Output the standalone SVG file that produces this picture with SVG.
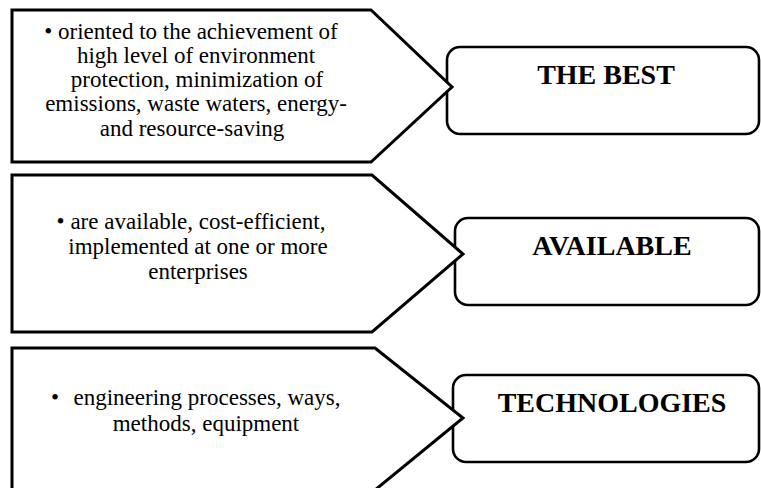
<svg xmlns="http://www.w3.org/2000/svg" width="761" height="488" viewBox="0 0 761 488">
<style>
.pent{fill:#fff;stroke:#000;stroke-width:3;stroke-linejoin:miter}
.box{fill:#fff;stroke:#000;stroke-width:2.6}
.body{font-family:'Liberation Serif','DejaVu Serif',serif;font-size:23px;fill:#000;text-anchor:middle}
.title{font-family:'Liberation Serif','DejaVu Serif',serif;font-size:28px;font-weight:bold;fill:#000;text-anchor:middle}
</style>
<rect width="761" height="488" fill="#fff"/>
<g id="node-best">
<rect class="box" x="447" y="47" width="312" height="87" rx="13"/>
<text class="title" x="606" y="84">THE BEST</text>
</g>
<g id="node-available">
<rect class="box" x="455" y="218" width="304" height="87" rx="13"/>
<text class="title" x="612" y="255">AVAILABLE</text>
</g>
<g id="node-technologies">
<rect class="box" x="453" y="375" width="306" height="87" rx="13"/>
<text class="title" x="612" y="412">TECHNOLOGIES</text>
</g>
<g id="connectors">
<g id="pent-1">
<polygon class="pent" points="12,10 371,10 452,87 371,162 12,162"/>
<text class="body" x="191" y="39">• oriented to the achievement of</text>
<text class="body" x="196" y="63">high level of environment</text>
<text class="body" x="197" y="87">protection, minimization of</text>
<text class="body" x="196" y="111">emissions, waste waters, energy-</text>
<text class="body" x="192" y="136">and resource-saving</text>
</g>
<g id="pent-2">
<polygon class="pent" points="12,175 372,175 463,254 372,332 12,332"/>
<text class="body" x="191" y="229">• are available, cost-efficient,</text>
<text class="body" x="198" y="254">implemented at one or more</text>
<text class="body" x="198" y="279">enterprises</text>
</g>
<g id="pent-3">
<polygon class="pent" points="12,348 375,348 463,418 375,490 12,490"/>
<text class="body" x="55" y="405">•</text>
<text class="body" x="207" y="405">engineering processes, ways,</text>
<text class="body" x="206" y="431">methods, equipment</text>
</g>
</g>
</svg>
